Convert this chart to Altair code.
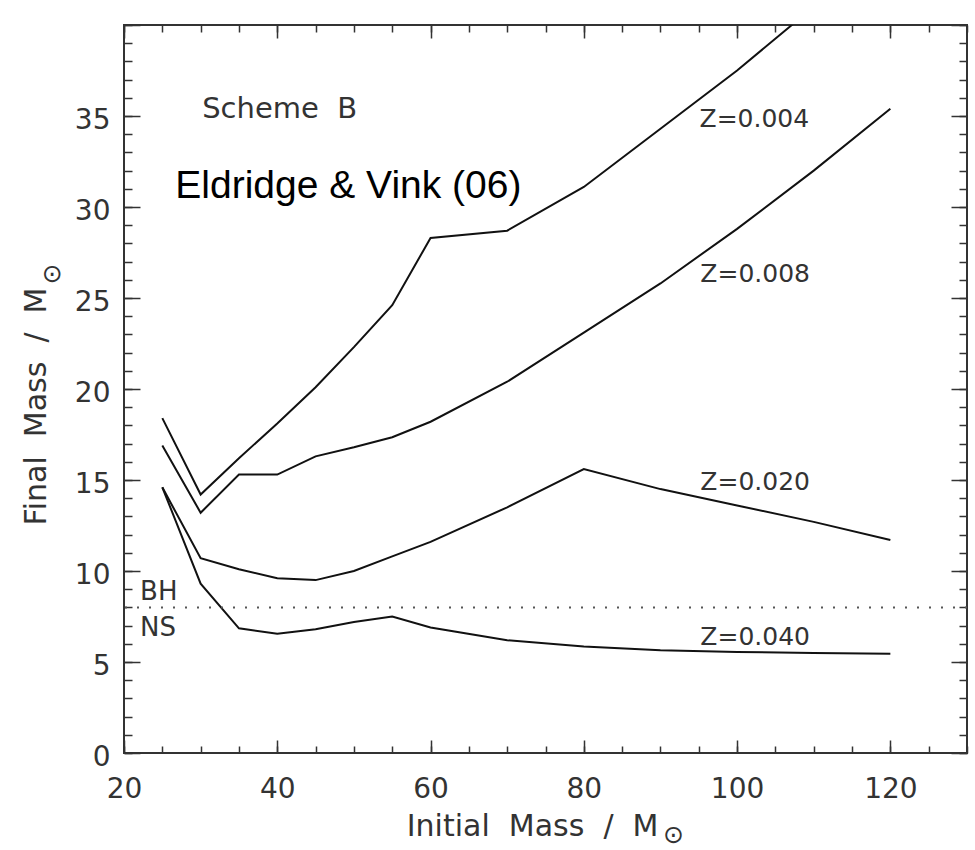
import altair as alt
import pandas as pd

# Initial stellar masses (M_sun) of the model grid
mass = [25, 30, 35, 40, 45, 50, 55, 60, 70, 80, 90, 100, 110, 120]

# Final masses (M_sun) for each metallicity
final_z004 = [18.4, 14.2, 16.2, 18.1, 20.1, 22.3, 24.6, 28.3, 28.7, 31.1, 34.3, 37.5, 41.0, 44.7]
final_z008 = [16.9, 13.2, 15.3, 15.3, 16.3, 16.8, 17.35, 18.2, 20.4, 23.1, 25.8, 28.8, 32.0, 35.4]
final_z020 = [14.6, 10.7, 10.1, 9.6, 9.5, 10.0, 10.8, 11.6, 13.5, 15.6, 14.5, 13.6, 12.7, 11.7]
final_z040 = [14.6, 9.3, 6.85, 6.55, 6.8, 7.2, 7.5, 6.9, 6.2, 5.85, 5.65, 5.55, 5.5, 5.45]

metallicity = ["Z=0.004", "Z=0.008", "Z=0.020", "Z=0.040"]

# Curve labels, placed in data coordinates
curve_label_x = [95.1, 95.2, 95.2, 95.2]
curve_label_y = [34.4, 25.9, 14.45, 5.92]

# Black hole / neutron star boundary (M_sun)
bh_ns_limit = 8.0
remnant_text = ["BH", "NS"]
remnant_x = [22.1, 22.1]
remnant_y = [8.43, 6.41]

scheme_text = "Scheme\u00a0\u00a0B"
scheme_pos = (30.2, 34.9)
source_text = "Eldridge & Vink (06)"
source_pos = (26.7, 30.5)

# Axis ticks
x_major = [20, 40, 60, 80, 100, 120]
x_minor = list(range(20, 131, 5))
y_major = list(range(0, 41, 5))
y_minor = list(range(0, 41, 1))
y_labels = list(range(0, 36, 5))

rows = []
for name, vals in zip(metallicity, [final_z004, final_z008, final_z020, final_z040]):
    for m, v in zip(mass, vals):
        rows.append({"Z": name, "mass": m, "final": v})
curves = pd.DataFrame(rows)

FONT = "DejaVu Sans"
INK = "#333333"
xs = alt.Scale(domain=[20, 130], nice=False, zero=False)
ys = alt.Scale(domain=[0, 40], nice=False, zero=False)


def tick_axis(orient, values, size, **extra):
    # tick-only axis pulled inside the frame so the ticks point inward
    return alt.Axis(orient=orient, values=values, ticks=True, tickSize=size,
                    offset=-size, tickColor=INK, tickWidth=1.5, labels=False,
                    domain=False, grid=False, **extra)


nbsp = "\u00a0\u00a0"
x_title = f"Initial{nbsp}Mass{nbsp}/{nbsp}M"
y_title = f"Final{nbsp}Mass{nbsp}/{nbsp}M"

lines = alt.Chart(curves).mark_line(color="#111111", strokeWidth=2, clip=True).encode(
    x=alt.X("mass:Q", scale=xs, axis=alt.Axis(
        orient="bottom", values=x_major, ticks=False, domain=False, grid=False,
        labelFont=FONT, labelFontSize=28, labelColor=INK, labelPadding=22,
        labelFlush=False, labelOverlap=False,
        title=x_title, titleFont=FONT, titleFontSize=30, titleFontWeight="normal",
        titleColor=INK, titleAlign="right", titleBaseline="alphabetic",
        titleX=534, titleY=82)),
    y=alt.Y("final:Q", scale=ys, axis=alt.Axis(
        orient="left", values=y_labels, ticks=False, domain=False, grid=False,
        labelFont=FONT, labelFontSize=28, labelColor=INK, labelPadding=14,
        labelOffset=4, labelFlush=False, labelOverlap=False,
        title=y_title, titleFont=FONT, titleFontSize=30, titleFontWeight="normal",
        titleColor=INK, titleAngle=270, titleAlign="right",
        titleBaseline="alphabetic", titleX=-79, titleY=262)),
    detail="Z:N",
    order="mass:Q",
)

sun_style = dict(titleFont=FONT, titleFontSize=25, titleFontWeight="normal",
                 titleColor=INK, titleAlign="center", titleBaseline="middle",
                 titleAngle=0)

ticks_major_near = alt.Chart(curves).mark_point(opacity=0, clip=True).encode(
    x=alt.X("mass:Q", scale=xs, axis=tick_axis("bottom", x_major, 13, title=None)),
    y=alt.Y("final:Q", scale=ys, axis=tick_axis("left", y_major, 16, title=None)),
)
ticks_minor_near = alt.Chart(curves).mark_point(opacity=0, clip=True).encode(
    x=alt.X("mass:Q", scale=xs, axis=tick_axis(
        "bottom", x_minor, 7, title="\u2299", titleX=549, titleY=88.5, **sun_style)),
    y=alt.Y("final:Q", scale=ys, axis=tick_axis(
        "left", y_minor, 8, title="\u2299", titleX=-80.3, titleY=248.3, **sun_style)),
)
ticks_major_far = alt.Chart(curves).mark_point(opacity=0, clip=True).encode(
    x=alt.X("mass:Q", scale=xs, axis=tick_axis("top", x_major, 13, title=None)),
    y=alt.Y("final:Q", scale=ys, axis=tick_axis("right", y_major, 16, title=None)),
)
ticks_minor_far = alt.Chart(curves).mark_point(opacity=0, clip=True).encode(
    x=alt.X("mass:Q", scale=xs, axis=tick_axis("top", x_minor, 7, title=None)),
    y=alt.Y("final:Q", scale=ys, axis=tick_axis("right", y_minor, 8, title=None)),
)

boundary = alt.Chart(pd.DataFrame({"limit": [bh_ns_limit]})).mark_rule(
    color="#555555", strokeWidth=2, strokeDash=[2, 10]
).encode(y=alt.Y("limit:Q", scale=ys, axis=None))

curve_labels = alt.Chart(pd.DataFrame({
    "x": curve_label_x, "y": curve_label_y, "text": metallicity
})).mark_text(align="left", baseline="alphabetic", font=FONT, fontSize=25,
              color=INK).encode(
    x=alt.X("x:Q", scale=xs, axis=None),
    y=alt.Y("y:Q", scale=ys, axis=None),
    text="text:N",
)

remnant_labels = alt.Chart(pd.DataFrame({
    "x": remnant_x, "y": remnant_y, "text": remnant_text
})).mark_text(align="left", baseline="alphabetic", font=FONT, fontSize=26,
              color=INK).encode(
    x=alt.X("x:Q", scale=xs, axis=None),
    y=alt.Y("y:Q", scale=ys, axis=None),
    text="text:N",
)

scheme_label = alt.Chart(pd.DataFrame({
    "x": [scheme_pos[0]], "y": [scheme_pos[1]], "text": [scheme_text]
})).mark_text(align="left", baseline="alphabetic", font=FONT, fontSize=29,
              color=INK).encode(
    x=alt.X("x:Q", scale=xs, axis=None),
    y=alt.Y("y:Q", scale=ys, axis=None),
    text="text:N",
)

source_label = alt.Chart(pd.DataFrame({
    "x": [source_pos[0]], "y": [source_pos[1]], "text": [source_text]
})).mark_text(align="left", baseline="alphabetic", font="Liberation Sans",
              fontSize=39, color="#000000").encode(
    x=alt.X("x:Q", scale=xs, axis=None),
    y=alt.Y("y:Q", scale=ys, axis=None),
    text="text:N",
)

chart = alt.layer(
    lines, ticks_major_near, ticks_minor_near, ticks_major_far, ticks_minor_far,
    boundary, curve_labels, remnant_labels, scheme_label, source_label,
).resolve_axis(
    x="independent", y="independent"
).properties(
    width=843, height=728,
    autosize=alt.AutoSizeParams(type="none"),
    padding={"left": 124, "top": 25, "right": 8, "bottom": 97},
    background="white",
).configure_view(
    stroke=INK, strokeWidth=2
)

chart.save("out.html", embed_options={"renderer": "svg", "actions": False})
